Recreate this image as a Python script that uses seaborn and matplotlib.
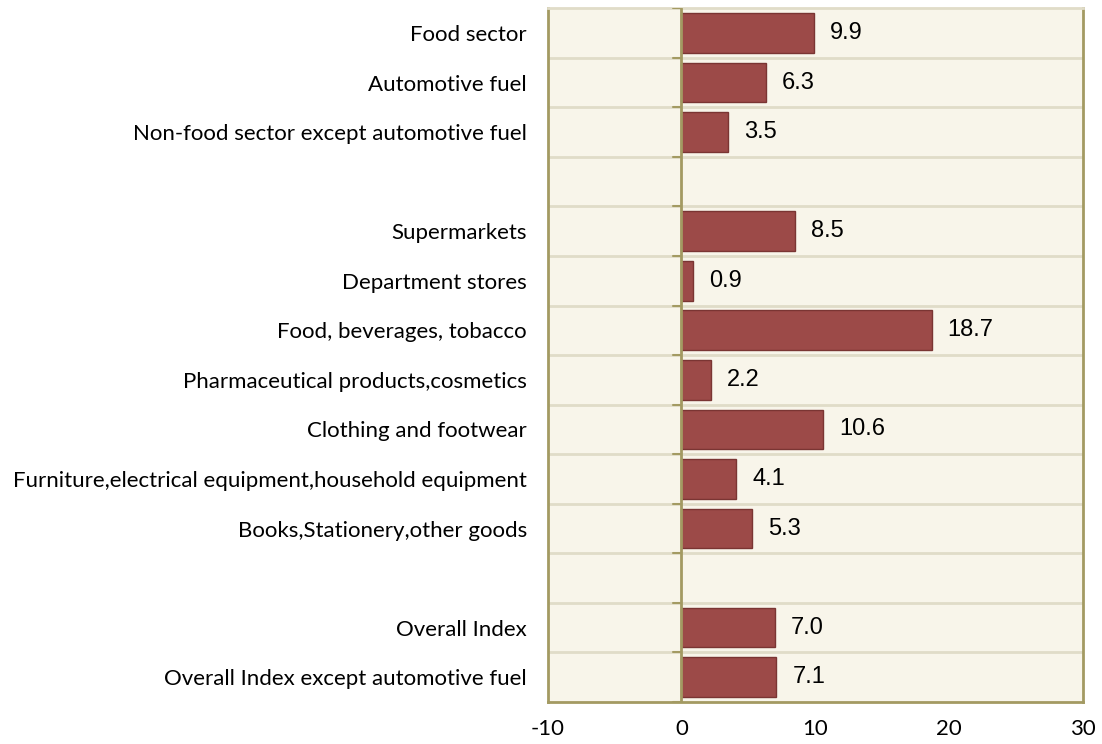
import numpy as np
import pandas as pd
import matplotlib
matplotlib.use("Agg")
import matplotlib.pyplot as plt
import seaborn as sns

# ======= Data =======
categories = [
    "Food sector", "Automotive fuel", "Non-food sector except automotive fuel", " ",
    "Supermarkets", "Department stores", "Food, beverages, tobacco",
    "Pharmaceutical products,cosmetics", "Clothing and footwear",
    "Furniture,electrical equipment,household equipment",
    "Books,Stationery,other goods", "  ",
    "Overall Index", "Overall Index except automotive fuel",
]
values = [9.9, 6.3, 3.5, np.nan, 8.5, 0.9, 18.7, 2.2, 10.6, 4.1, 5.3, np.nan, 7.0, 7.1]
x_ticks = [-10, 0, 10, 20, 30]

df = pd.DataFrame({"category": categories, "value": values})

# ======= Style =======
sns.set_style("white")
plt.rcParams["font.family"] = ["Lato", "DejaVu Sans"]
plt.rcParams["text.color"] = "black"
plt.rcParams["xtick.color"] = "black"
plt.rcParams["ytick.color"] = "black"
BG = "#f8f5ea"
BAR = "#9c4a48"
EDGE = "#7a3533"
OLIVE = "#a39a62"
GRID = "#e0dcc8"

fig = plt.figure(figsize=(11.02, 7.44), dpi=100)
ax = fig.add_axes([0.497, 0.0565, 0.4855, 0.9325])
ax.set_facecolor(BG)

sns.barplot(data=df, y="category", x="value", orient="h", order=categories,
            color=BAR, saturation=1, width=0.8, edgecolor=EDGE, linewidth=1, ax=ax)

n = len(categories)
ax.set_xlim(-10, 30)
ax.set_ylim(n - 0.5, -0.5)
ax.set_xticks(x_ticks)
ax.set_xticklabels([str(t) for t in x_ticks], fontsize=16)
ax.tick_params(axis="x", direction="out", length=6, width=1.5, color="#b0b0b0", pad=6)
ax.tick_params(axis="y", length=0, labelsize=16, pad=15)
ax.set_xlabel("")
ax.set_ylabel("")

# row separators + small ticks on the zero axis
for b in np.arange(0.5, n - 0.5, 1):
    ax.axhline(b, color=GRID, lw=2, zorder=0)
    ax.plot([-0.6, 0], [b, b], color=OLIVE, lw=1.5, zorder=3)
ax.plot([-0.6, 0], [-0.5, -0.5], color=OLIVE, lw=1.5, zorder=3)
ax.plot([-0.6, 0], [n - 0.5, n - 0.5], color=OLIVE, lw=1.5, zorder=3)
ax.axvline(0, color=OLIVE, lw=2, zorder=3)

for side in ["left", "right", "bottom"]:
    ax.spines[side].set_color(OLIVE)
    ax.spines[side].set_linewidth(2)
ax.spines["top"].set_color(GRID)
ax.spines["top"].set_linewidth(2)

# value labels
for i, v in enumerate(values):
    if np.isfinite(v):
        ax.text(v + 1.2, i, f"{v:.1f}", va="center", ha="left", fontsize=17,
                family=["Liberation Sans", "DejaVu Sans"], color="black")

fig.savefig("out.png", dpi=100, facecolor="white")
